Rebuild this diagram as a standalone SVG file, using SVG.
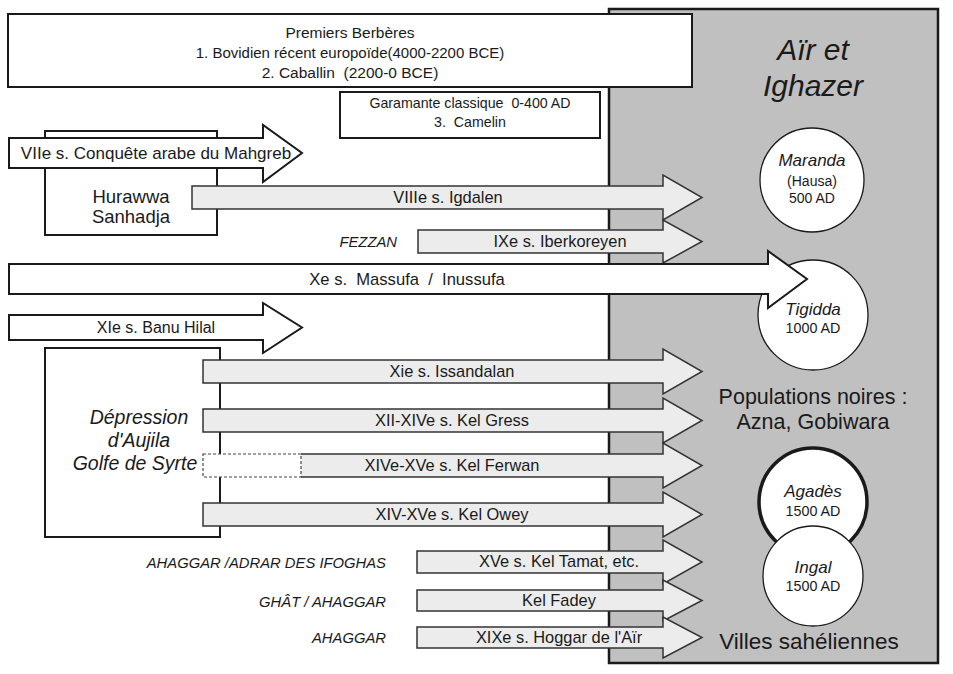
<svg xmlns="http://www.w3.org/2000/svg" width="953" height="674" viewBox="0 0 953 674">
<style>
text{font-family:"Liberation Sans",Arial,Helvetica,sans-serif;fill:#1a1a1a;white-space:pre}
.m{text-anchor:middle}
.r{text-anchor:end}
.it{font-style:italic}
.box{fill:#fff;stroke:#1a1a1a;stroke-width:2}
.wa{fill:#fff;stroke:#1a1a1a;stroke-width:2;stroke-linejoin:miter}
.ga{fill:#ececec;stroke:#333;stroke-width:1.5;stroke-linejoin:miter}
.lbl{font-size:16.4px}
.reg{font-size:14.8px;font-style:italic}
.circ{fill:#fff;stroke:#1a1a1a;stroke-width:1.3}
</style>
<rect width="953" height="674" fill="#fff"/>
<g id="panel-air">
<rect x="609" y="9" width="329" height="654" fill="#c0c0c0" stroke="#1a1a1a" stroke-width="2.5"/>
<text class="m it" x="813" y="60" font-size="30">Aïr et</text>
<text class="m it" x="813" y="96" font-size="30">Ighazer</text>
<text class="m" x="813" y="404" font-size="21.5">Populations noires :</text>
<text class="m" x="813" y="429" font-size="21.5">Azna, Gobiwara</text>
<text class="m" x="809" y="649" font-size="22.5">Villes sahéliennes</text>
</g>
<g id="premiers-berberes">
<rect class="box" x="8" y="14" width="684" height="73"/>
<text class="m" x="350" y="38" font-size="15.5">Premiers Berbères</text>
<text class="m" x="350" y="58" font-size="15">1. Bovidien récent europoïde(4000-2200 BCE)</text>
<text class="m" x="350" y="78" font-size="15.5">2. Caballin  (2200-0 BCE)</text>
</g>
<g id="garamante">
<rect class="box" x="340" y="92" width="260" height="46" stroke-width="1.5"/>
<text class="m" x="470" y="108" font-size="14.2">Garamante classique  0-400 AD</text>
<text class="m" x="470" y="127" font-size="14.2">3.  Camelin</text>
</g>
<g id="maranda">
<circle class="circ" cx="812" cy="180" r="52"/>
<text class="m it" x="812" y="166" font-size="17">Maranda</text>
<text class="m" x="812" y="186" font-size="14">(Hausa)</text>
<text class="m" x="812" y="203" font-size="14">500 AD</text>
</g>
<g id="tigidda">
<circle class="circ" cx="813" cy="315" r="55"/>
<text class="m it" x="813" y="315" font-size="17">Tigidda</text>
<text class="m" x="813" y="333" font-size="14.3">1000 AD</text>
</g>
<g id="agades">
<circle cx="813" cy="502" r="54" fill="#fff" stroke="#1a1a1a" stroke-width="3.5"/>
<text class="m it" x="813" y="497" font-size="17">Agadès</text>
<text class="m" x="813" y="516" font-size="14.3">1500 AD</text>
</g>
<g id="ingal">
<circle class="circ" cx="813" cy="576" r="50"/>
<text class="m it" x="813" y="573" font-size="17">Ingal</text>
<text class="m" x="813" y="591" font-size="14.3">1500 AD</text>
</g>
<g id="hurawwa">
<rect class="box" x="45" y="131" width="172" height="104"/>
<text class="m" x="131" y="203" font-size="18.5">Hurawwa</text>
<text class="m" x="131" y="223" font-size="18.5">Sanhadja</text>
</g>
<g id="depression">
<rect class="box" x="45" y="348" width="175" height="189"/>
<text class="m it" x="139" y="424" font-size="19.5">Dépression</text>
<text class="m it" x="139" y="447" font-size="19.5">d'Aujila</text>
<text class="m it" x="135" y="470" font-size="19.5">Golfe de Syrte</text>
</g>
<g id="region-labels">
<text class="r reg" x="397" y="247">FEZZAN</text>
<text class="r reg" x="386" y="568">AHAGGAR /ADRAR DES IFOGHAS</text>
<text class="r reg" x="386" y="607">GHÂT / AHAGGAR</text>
<text class="r reg" x="386" y="643">AHAGGAR</text>
</g>
<g id="connectors">
<g id="a-viie">
<polygon class="wa" points="9,138 263,138 263,125 302,153 263,182 263,168 9,168"/>
<text class="m" x="156" y="159" font-size="17">VIIe s. Conquête arabe du Mahgreb</text>
</g>
<g id="a-igdalen">
<polygon class="ga" points="192,186 663,186 663,175 702,197.5 663,220 663,209 192,209"/>
<text class="m lbl" x="448" y="203">VIIIe s. Igdalen</text>
</g>
<g id="a-iberkoreyen">
<polygon class="ga" points="418,230 663,230 663,220 702,241.5 663,263 663,253 418,253"/>
<text class="m lbl" x="560" y="247">IXe s. Iberkoreyen</text>
</g>
<g id="a-massufa">
<polygon class="wa" points="9,264 768,264 768,251 807,279 768,308 768,294 9,294"/>
<text class="m" x="407" y="285" font-size="16.6">Xe s.  Massufa  /  Inussufa</text>
</g>
<g id="a-banuhilal">
<polygon class="wa" points="9,315 263,315 263,303 302,327.5 263,353 263,340 9,340"/>
<text class="m" x="156" y="333" font-size="16">XIe s. Banu Hilal</text>
</g>
<g id="a-issandalan">
<polygon class="ga" points="203,360 663,360 663,349 702,371.5 663,394 663,383 203,383"/>
<text class="m lbl" x="452" y="377">Xie s. Issandalan</text>
</g>
<g id="a-kelgress">
<polygon class="ga" points="203,409 663,409 663,398 702,420.5 663,443 663,432 203,432"/>
<text class="m lbl" x="452" y="426">XII-XIVe s. Kel Gress</text>
</g>
<g id="a-kelferwan">
<path d="M301,454 H663 V443 L702,465.5 L663,488 V477 H301" fill="#ececec" stroke="#333" stroke-width="1.5"/>
<rect x="203" y="454" width="98" height="23" fill="#fff" stroke="#444" stroke-width="1.2" stroke-dasharray="3,2"/>
<text class="m lbl" x="452" y="471">XIVe-XVe s. Kel Ferwan</text>
</g>
<g id="a-kelowey">
<polygon class="ga" points="203,503 663,503 663,492 702,514.5 663,537 663,526 203,526"/>
<text class="m lbl" x="452" y="520">XIV-XVe s. Kel Owey</text>
</g>
<g id="a-keltamat">
<polygon class="ga" points="417,551 663,551 663,540 702,562 663,584 663,573 417,573"/>
<text class="m lbl" x="559" y="567">XVe s. Kel Tamat, etc.</text>
</g>
<g id="a-kelfadey">
<polygon class="ga" points="417,590 663,590 663,580 702,600.5 663,621 663,611 417,611"/>
<text class="m lbl" x="559" y="606">Kel Fadey</text>
</g>
<g id="a-hoggar">
<polygon class="ga" points="417,627 663,627 663,617 702,637.5 663,658 663,648 417,648"/>
<text class="m lbl" x="559" y="643">XIXe s. Hoggar de l'Aïr</text>
</g>
</g>
</svg>
